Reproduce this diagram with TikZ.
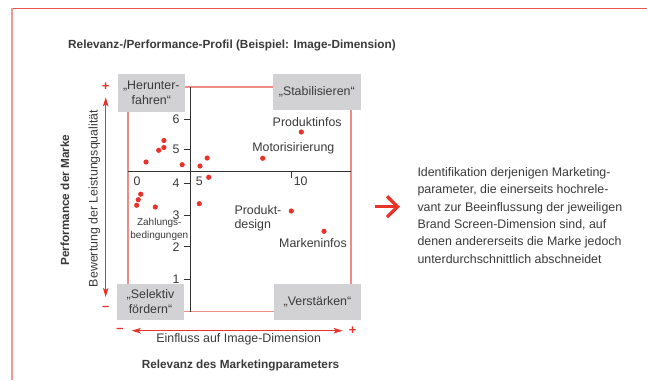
\documentclass[tikz,border=0pt]{standalone}
\usepackage{fontspec}
\setmainfont{Liberation Sans}
\usetikzlibrary{arrows.meta}

\definecolor{accent}{HTML}{E8332B}
\definecolor{framepink}{HTML}{F39A94}
\definecolor{quadline}{HTML}{F08C86}
\definecolor{boxgray}{HTML}{D2D2D4}
\definecolor{ink}{HTML}{3A3A3A}
\definecolor{axisink}{HTML}{333333}

\begin{document}
\begin{tikzpicture}[x=1pt,y=-1pt,
  every node/.style={text=ink, inner sep=0pt},
  lbl/.style={font=\fontsize{12.4}{14}\selectfont},
  smalllbl/.style={font=\fontsize{10}{12.4}\selectfont, align=center},
  headfont/.style={font=\fontsize{11.8}{14}\selectfont\bfseries},
  quadbox/.style={fill=boxgray, align=center, font=\fontsize{12.4}{14.5}\selectfont},
  dot/.style={circle, fill=accent, minimum size=5.2pt, inner sep=0pt},
  sign/.style={text=accent, font=\fontsize{13}{13}\selectfont\bfseries},
  redarrow/.style={draw=accent, line width=1pt,
    {Stealth[length=9pt,width=5.5pt,inset=2pt]}-{Stealth[length=9pt,width=5.5pt,inset=2pt]}},
  axisline/.style={draw=axisink, line width=0.8pt},
]
\useasboundingbox (0,0) rectangle (647,380);

% outer frame
\draw[accent!85, line width=1.4pt] (11,8.3) -- (647,8.3);
\draw[framepink, line width=2pt] (12.4,8) -- (12.4,380);

% title
\node[headfont, anchor=west] (title) at (68,45)
  {Relevanz-/Performance-Profil (Beispiel: Image-Dimension)};

% quadrant frame and axes
\coordinate (qnw) at (128,87);
\coordinate (qse) at (351,311.7);
\draw[quadline, line width=1.3pt] (qnw) rectangle (qse);
\coordinate (xl) at (128,171);
\coordinate (xr) at (351,171);
\coordinate (yt) at (190.3,87);
\coordinate (yb) at (190.3,311.7);
\draw[axisline] (xl) -- (xr);
\draw[axisline] (yt) -- (yb);

% y ticks and labels
\foreach \v/\py in {6/119.3, 5/149.3, 4/183.3, 3/215, 2/246.7, 1/279.3} {
  \draw[axisline] (183.5,\py) -- (190.3,\py);
  \node[lbl] (ytick\v) at (176,\py) {\v};
}
% x labels
\draw[axisline] (291.3,171) -- (291.3,178);
\node[lbl] (xtick0) at (137,181.7) {0};
\node[lbl] (xtick5) at (199.3,181) {5};
\node[lbl] (xtick10) at (300.7,181.7) {10};

% data points
\foreach \px/\py [count=\k] in {146/162, 158.7/150.3, 163.9/147.5, 163.9/140.5,
    182.2/164.7, 200/166, 207.2/158, 208.7/177.3, 262.7/158.3, 301.3/132,
    199.3/203.7, 291.3/211, 136.7/205.3, 138.3/199.7, 140.7/194.2,
    155.3/207, 324/231.3}
  \node[dot] (pt\k) at (\px,\py) {};

% point labels
\node[lbl] (produktinfos) at (307.2,122) {Produktinfos};
\node[lbl] (motor) at (293.3,148) {Motorisirierung};
\node[lbl, align=left, anchor=west] (design) at (234.3,218.7) {Produkt-\\design};
\node[lbl] (markeninfos) at (313,242.7) {Markeninfos};
\node[smalllbl] (zahlung) at (159.3,229.5) {Zahlungs-\\bedingungen};

% quadrant boxes
\node[quadbox, minimum width=66.5pt, minimum height=38pt] (herunter) at (151.3,93)
  {„Herunter-\\fahren“};
\node[quadbox, minimum width=87.5pt, minimum height=36.5pt] (stabil) at (316.8,91.8)
  {„Stabilisieren“};
\node[quadbox, minimum width=67pt, minimum height=35.5pt] (selektiv) at (150.5,301.8)
  {„Selektiv\\fördern“};
\node[quadbox, minimum width=87pt, minimum height=35.5pt] (verstaerken) at (317.5,301.8)
  {„Verstärken“};

% vertical axis description
\coordinate (vtop) at (105.7,97.3);
\coordinate (vbot) at (105.7,297);
\draw[redarrow] (vbot) -- (vtop);
\node[sign] (vplus) at (105.7,86.7) {+};
\node[sign] (vminus) at (105.7,308.3) {–};
\node[lbl, rotate=90] (bewertung) at (94.3,198.5) {Bewertung der Leistungsqualität};
\node[headfont, rotate=90] (perf) at (65,200) {Performance der Marke};

% horizontal axis description
\coordinate (hleft) at (131.7,330.7);
\coordinate (hright) at (342.7,330.7);
\draw[redarrow] (hleft) -- (hright);
\node[sign] (hminus) at (120,330.7) {–};
\node[sign] (hplus) at (352.7,330.7) {+};
\node[lbl] (einfluss) at (238.7,339.5) {Einfluss auf Image-Dimension};
\node[headfont] (relevanz) at (240.5,365.7) {Relevanz des Marketingparameters};

% conclusion arrow
\draw[accent, line width=3.3pt] (375,206.7) -- (396,206.7);
\draw[accent, line width=3.3pt, line join=miter] (387,196.3) -- (397.6,206.7) -- (387,217.1);

% conclusion text
\node[anchor=north west, align=left, font=\fontsize{12.4}{17.3}\selectfont] (note) at (417.3,167.5)
  {Identifikation derjenigen Marketing-\\
   parameter, die einerseits hochrele-\\
   vant zur Beeinflussung der jeweiligen\\
   Brand Screen-Dimension sind, auf\\
   denen andererseits die Marke jedoch\\
   unterdurchschnittlich abschneidet};
\end{tikzpicture}
\end{document}
